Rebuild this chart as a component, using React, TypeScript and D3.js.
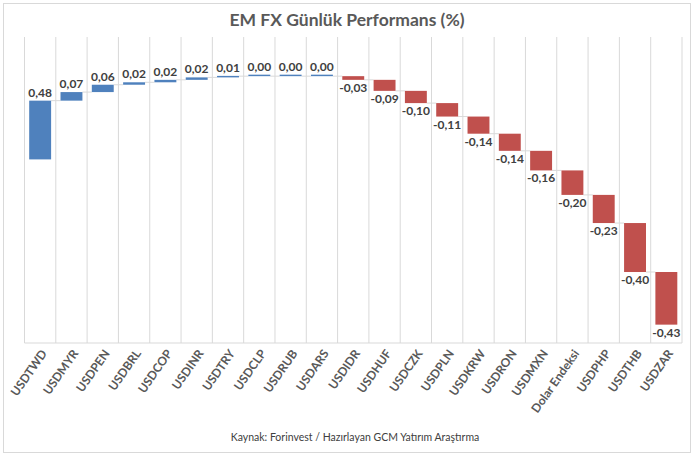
import React from 'react';
import * as d3 from 'd3';

const categories = ['USDTWD', 'USDMYR', 'USDPEN', 'USDBRL', 'USDCOP', 'USDINR', 'USDTRY', 'USDCLP', 'USDRUB', 'USDARS', 'USDIDR', 'USDHUF', 'USDCZK', 'USDPLN', 'USDKRW', 'USDRON', 'USDMXN', 'Dolar Endeksi', 'USDPHP', 'USDTHB', 'USDZAR'];
const values = [0.48, 0.07, 0.06, 0.02, 0.02, 0.02, 0.01, 0.0, 0.0, 0.0, -0.03, -0.09, -0.10, -0.11, -0.14, -0.14, -0.16, -0.20, -0.23, -0.40, -0.43];

const W = 694;
const H = 455;
const plot = { left: 24.5, right: 682, top: 37, bottom: 343 };

const fmt = (v: number) => v.toFixed(2).replace('.', ',');

export default function App() {
    const x = d3.scaleBand<string>()
        .domain(categories)
        .range([plot.left, plot.right])
        .paddingInner(0.3)
        .paddingOuter(0.15);
    const y = d3.scaleLinear()
        .domain([-1.5, 1.0])
        .range([plot.bottom, plot.top]);

    // running totals for the waterfall
    let cum = 0;
    const bars = values.map((v, i) => {
        const start = cum;
        cum += v;
        return { name: categories[i], v, start, end: cum };
    });

    const bounds = d3.range(categories.length + 1).map(i => plot.left + i * (plot.right - plot.left) / categories.length);
    const font = 'Lato, "Open Sans", sans-serif';

    return (
        <svg width={W} height={H} style={{ position: 'absolute', left: 0, top: 0 }} fontFamily={font}>
            <rect x={0} y={0} width={W} height={H} fill="#fff" />
            <rect x={3.5} y={3.5} width={687} height={449} fill="none" stroke="#d9d9d9" />
            <text x={W / 2} y={26} textAnchor="middle" fontSize={17.5} fontWeight="bold" fill="#595959">EM FX Günlük Performans (%)</text>
            {bounds.map((b, i) => (
                <line key={'g' + i} x1={b} x2={b} y1={plot.top} y2={plot.bottom} stroke="#d9d9d9" strokeWidth={1} />
            ))}
            <line x1={plot.left} x2={plot.right} y1={plot.bottom} y2={plot.bottom} stroke="#d9d9d9" />
            {bars.slice(0, -1).map((b, i) => (
                <line key={'c' + i}
                    x1={(x(b.name) as number) + x.bandwidth()}
                    x2={x(bars[i + 1].name) as number}
                    y1={y(b.end)} y2={y(b.end)}
                    stroke="#d9d9d9" strokeWidth={1} />
            ))}
            {bars.map(b => {
                const top = y(Math.max(b.start, b.end));
                const bot = y(Math.min(b.start, b.end));
                const h = Math.max(bot - top, 1.5);
                const pos = b.v >= 0;
                const cx = (x(b.name) as number) + x.bandwidth() / 2;
                return (
                    <g key={b.name}>
                        <rect x={x(b.name)} y={pos ? bot - h : top} width={x.bandwidth()} height={h} fill={pos ? '#4f81bd' : '#c0504d'} />
                        <text x={cx} y={pos ? bot - h - 4 : top + h + 12} textAnchor="middle" fontSize={12} fontWeight="bold" fill="#404040">{fmt(b.v)}</text>
                    </g>
                );
            })}
            {categories.map(c => {
                const cx = (x(c) as number) + x.bandwidth() / 2 + 4;
                return (
                    <text key={'t' + c} transform={`translate(${cx},${plot.bottom + 8}) rotate(-55)`} textAnchor="end" dy="0.35em" fontSize={12} fontWeight="bold" fill="#595959">{c}</text>
                );
            })}
            <text x={355} y={441} textAnchor="middle" fontSize={10.5} fill="#404040">Kaynak: Forinvest / Hazırlayan GCM Yatırım Araştırma</text>
        </svg>
    );
}
